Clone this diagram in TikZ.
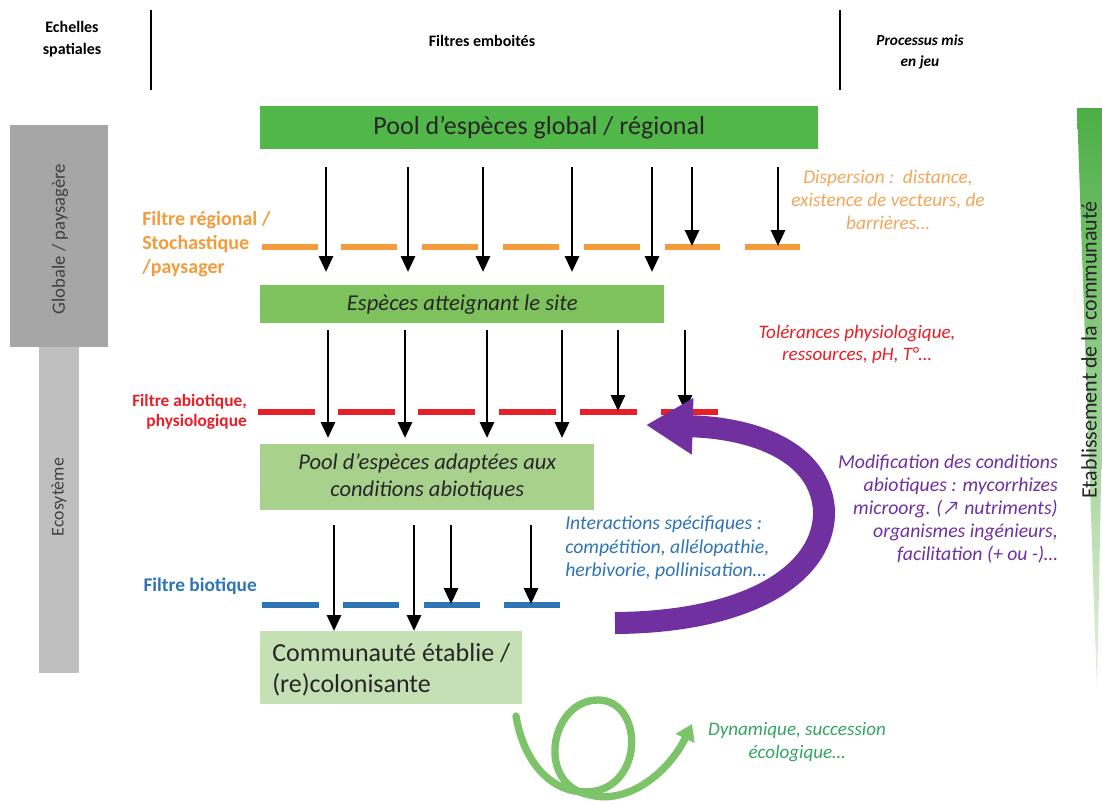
\documentclass[tikz,border=0pt]{standalone}
\usepackage{fontspec}
\setmainfont{Carlito}
\usetikzlibrary{arrows.meta}
\definecolor{gA}{RGB}{80,183,72}
\definecolor{gB}{RGB}{125,194,92}
\definecolor{gC}{RGB}{169,209,142}
\definecolor{gD}{RGB}{197,224,180}
\definecolor{orD}{RGB}{244,156,60}
\definecolor{orT}{RGB}{243,166,90}
\definecolor{rdD}{RGB}{230,32,40}
\definecolor{blD}{RGB}{46,117,182}
\definecolor{puD}{RGB}{112,48,160}
\definecolor{grA}{RGB}{166,166,166}
\definecolor{grB}{RGB}{191,191,191}
\definecolor{tealT}{RGB}{52,165,100}
\definecolor{spir}{RGB}{125,195,105}
\begin{document}
\begin{tikzpicture}[x=0.75pt,y=-0.75pt,
  hdr/.style={font=\fontsize{12}{17}\selectfont\bfseries, align=center, inner sep=0pt},
  box/.style={anchor=north west, inner sep=0pt, align=center, text=black!85},
  flt/.style={line width=4.5pt},
  darr/.style={line width=2.2pt, -{Triangle[width=10.5pt,length=12pt]}},
  lab/.style={font=\bfseries, inner sep=0pt},
  proc/.style={font=\itshape, inner sep=0pt}]
\useasboundingbox (0,0) rectangle (1102,803);
\fill[white] (0,0) rectangle (1102,803);

% header
\node[hdr] (hscale) at (72,39) {Echelles\\spatiales};
\node[hdr] (hfilt) at (482,41) {Filtres emboités};
\node[hdr, font=\fontsize{11.5}{16}\selectfont\bfseries\itshape] (hproc) at (920,52) {Processus mis\\en jeu};
\coordinate (v1a) at (151,10); \coordinate (v1b) at (151,90);
\coordinate (v2a) at (840,10); \coordinate (v2b) at (840,90);
\draw[line width=0.8pt] (v1a) -- (v1b);
\draw[line width=0.8pt] (v2a) -- (v2b);

% spatial scales
\node[fill=grA, minimum width=73.5pt, minimum height=166.5pt, anchor=north west, inner sep=0pt] (glob) at (10,125) {};
\node[fill=grB, minimum width=30pt, minimum height=244.5pt, anchor=north west, inner sep=0pt] (eco) at (39,347) {};
\node[rotate=90, font=\fontsize{14}{16}\selectfont, text=black!75] (globt) at (60,239) {Globale / paysagère};
\node[rotate=90, font=\fontsize{13.4}{16}\selectfont, text=black!75] (ecot) at (59,497) {Ecosytème};

% right tapered arrow
\shade[top color=gA!95!black, bottom color=gC!30!white] (1077,108) -- (1102,108) -- (1102,430) -- (1097,690) -- cycle;
\node[rotate=90, inner sep=0pt, font=\fontsize{16.5}{19}\selectfont, text=black!85] (etab) at (1089,350) {Etablissement de la communauté};

% boxes
\node[box, fill=gA, minimum width=418.5pt, minimum height=32.25pt, font=\fontsize{19.5}{22}\selectfont] (pool) at (260,106) {Pool d’espèces\ global /\ régional};
\node[box, fill=gB, minimum width=303pt, minimum height=28.5pt, font=\fontsize{17}{20}\selectfont\itshape] (site) at (260,285) {Espèces atteignant le site};
\node[box, fill=gC, minimum width=250.5pt, minimum height=49.5pt, font=\fontsize{16.9}{20}\selectfont\itshape] (adap) at (260,444) {Pool d’espèces adaptées aux\\conditions abiotiques};
\node[box, fill=gD, minimum width=196.5pt, minimum height=54.75pt] (comm) at (260,631) {};
\node[anchor=west, inner sep=0pt, align=left, font=\fontsize{19.5}{23}\selectfont, text=black!85] (commt) at (272,670) {Communauté\ établie /\\(re)colonisante};

% filters
\foreach \a/\b in {262/318,341/397,422/478,503/559,584/640,665/720,745/800}
  \draw[flt, orD] (\a,247) -- (\b,247);
\foreach \a/\b in {258/315,338/395,418/475,499/556,580/637,661/718}
  \draw[flt, rdD] (\a,412) -- (\b,412);
\foreach \a/\b in {262/319,343/399,424/480,504/560}
  \draw[flt, blD] (\a,605) -- (\b,605);

% arrows row 1
\foreach \x [count=\i] in {326,408,483,572,652} {
  \coordinate (r1s\i) at (\x,167); \coordinate (r1e\i) at (\x,272);
  \draw[darr] (r1s\i) -- (r1e\i);}
\foreach \x [count=\i] in {692,778} {
  \coordinate (r1t\i) at (\x,167); \coordinate (r1u\i) at (\x,246);
  \draw[darr] (r1t\i) -- (r1u\i);}
% arrows row 2
\foreach \x [count=\i] in {328,405,487,562} {
  \coordinate (r2s\i) at (\x,330); \coordinate (r2e\i) at (\x,438);
  \draw[darr] (r2s\i) -- (r2e\i);}
\foreach \x [count=\i] in {618,685} {
  \coordinate (r2t\i) at (\x,330); \coordinate (r2u\i) at (\x,411);
  \draw[darr] (r2t\i) -- (r2u\i);}
% arrows row 3
\foreach \x [count=\i] in {334,414} {
  \coordinate (r3s\i) at (\x,525); \coordinate (r3e\i) at (\x,631);
  \draw[darr] (r3s\i) -- (r3e\i);}
\foreach \x [count=\i] in {451,531} {
  \coordinate (r3t\i) at (\x,525); \coordinate (r3u\i) at (\x,604);
  \draw[darr] (r3t\i) -- (r3u\i);}

% filter labels
\node[lab, font=\fontsize{15}{18}\selectfont\bfseries, text=orD, anchor=west, align=left] (forg) at (142,244) {Filtre régional /\\Stochastique\\/paysager};
\node[lab, font=\fontsize{13}{15.3}\selectfont\bfseries, text=rdD, anchor=east, align=right] (fabio) at (247,412) {Filtre abiotique,\\physiologique};
\node[lab, font=\fontsize{14.5}{17}\selectfont\bfseries, text=blD, anchor=east] (fbio) at (257,586) {Filtre biotique};

% process texts
\node[proc, font=\fontsize{14.5}{17}\selectfont\itshape, text=orT, align=center] (pdisp) at (888,200) {Dispersion :\ \ distance,\\existence de vecteurs, de\\barrières…};
\node[proc, font=\fontsize{14.3}{16.5}\selectfont\itshape, text=rdD, align=center] (ptol) at (857,344) {Tolérances physiologique,\\ressources, pH, T°…};
\node[proc, font=\fontsize{14.8}{17.5}\selectfont\itshape, text=blD, align=left, anchor=west] (pint) at (565,548) {Interactions spécifiques :\\compétition, allélopathie,\\herbivorie, pollinisation…};
\node[proc, font=\fontsize{14.8}{17.3}\selectfont\itshape, text=puD, align=right, anchor=east] (pmod) at (1058,509) {Modification des conditions\\abiotiques : mycorrhizes\\microorg. (↗ nutriments)\\organismes ingénieurs,\\facilitation (+ ou -)…};
\node[proc, font=\fontsize{14.3}{17.3}\selectfont\itshape, text=tealT, align=center] (pdyn) at (797,742) {Dynamique, succession\\écologique…};

% purple feedback arrow
\coordinate (pA) at (615,623);
\coordinate (pB) at (824,510);
\coordinate (pC) at (646,425);
\draw[puD, line width=16.5pt, -{Triangle[width=40pt,length=35pt]}]
  (pA) .. controls (755,622) and (826,570) .. (pB)
       .. controls (820,452) and (755,428) .. (pC);

% green spiral
\coordinate (sA) at (516,716);
\coordinate (sB) at (692,724);
\draw[spir, line width=5.5pt, line cap=round, -{Triangle[width=15pt,length=12pt]}]
  (sA) .. controls (525,770) and (560,800) .. (600,790)
       .. controls (645,775) and (640,700) .. (598,700)
       .. controls (550,700) and (535,785) .. (590,795)
       .. controls (630,805) and (670,770) .. (sB);
\end{tikzpicture}
\end{document}
